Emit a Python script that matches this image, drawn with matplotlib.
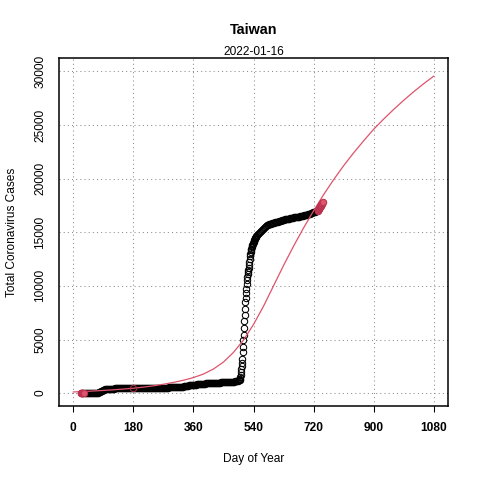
import matplotlib
matplotlib.use("Agg")
import matplotlib.pyplot as plt

plt.rcParams['font.family'] = ['Liberation Sans', 'DejaVu Sans']

title = "Taiwan"
subtitle = "2022-01-16"
xlabel = "Day of Year"
ylabel = "Total Coronavirus Cases"
xticks = [0, 180, 360, 540, 720, 900, 1080]
yticks = [0, 5000, 10000, 15000, 20000, 25000, 30000]

# early highlighted points (red)
red_start_days = [22, 23, 24, 25, 26, 27, 28, 29, 30, 31]
red_start_vals = [1, 1, 3, 3, 4, 5, 8, 8, 9, 10]

# black observed points
black_days = list(range(34, 497, 3)) + list(range(497, 548)) + list(range(548, 732, 3))
black_vals = [
    10, 11, 16, 18, 20, 22, 26, 31, 34, 40, 42, 45, 47, 50, 67, 108, 169, 235, 283, 322,
    348, 363, 380, 388, 395, 398, 422, 427, 429, 429, 436, 438, 440, 440, 441, 442, 442, 442,
    443, 443, 443, 443, 445, 445, 446, 446, 446, 446, 447, 447, 449, 449, 451, 451, 451, 455,
    455, 455, 458, 462, 467, 467, 474, 477, 479, 480, 482, 486, 487, 487, 488, 489, 492, 495,
    496, 498, 503, 505, 507, 510, 514, 516, 520, 523, 527, 532, 534, 537, 542, 547, 553, 555,
    565, 573, 577, 590, 603, 611, 618, 633, 670, 685, 696, 711, 718, 733, 742, 753, 766, 771,
    795, 802, 817, 828, 838, 847, 853, 866, 870, 880, 889, 911, 919, 923, 927, 930, 937, 938,
    942, 946, 953, 960, 970, 975, 982, 990, 994, 997, 1001, 1006, 1016, 1030, 1040, 1048, 1051,
    1057, 1060, 1068, 1076, 1084, 1090, 1110, 1132, 1153, 1210,
    # daily 497-547
    1231, 1241, 1256, 1290, 1475, 1682, 2017, 2260, 2533, 2825, 3144, 3862, 4322, 4917, 5456,
    6091, 6761, 7315, 7806, 8511, 8842, 9297, 9668, 10144, 10555, 10872, 11119, 11298, 11491,
    11694, 11968, 12222, 12486, 12746, 12929, 13117, 13304, 13408, 13584, 13685, 13814, 13895,
    14005, 14086, 14156, 14271, 14353, 14428, 14480, 14549, 14588,
    # every 3 days 548-731
    14634, 14730, 14830, 14920, 15010, 15100, 15200, 15300, 15400, 15520, 15623, 15660, 15700,
    15740, 15780, 15810, 15840, 15870, 15890, 15920, 15950, 15970, 16000, 16030, 16060, 16090,
    16120, 16150, 16170, 16200, 16220, 16240, 16260, 16280, 16300, 16320, 16340, 16360, 16380,
    16400, 16410, 16430, 16450, 16470, 16490, 16510, 16530, 16550, 16570, 16590, 16620, 16650,
    16680, 16710, 16740, 16780, 16810, 16850, 16880, 16920, 16960, 17000,
]

# latest highlighted points (red)
red_end_days = list(range(732, 748))
red_end_vals = [17029, 17060, 17100, 17150, 17200, 17255, 17310, 17360, 17420, 17480,
                17530, 17580, 17640, 17700, 17770, 17848]

# fitted curve, read every 30 days
curve_days = list(range(0, 1081, 30))
curve_vals = [110, 150, 200, 250, 310, 380, 460, 560, 680, 830, 1000, 1200, 1450, 1780,
              2250, 2900, 3800, 4950, 6400, 8100, 10000, 11900, 13700, 15400, 17000, 18500,
              19900, 21200, 22400, 23520, 24600, 25550, 26450, 27300, 28100, 28850, 29550]

# marked point on the curve
mark_day = [180]
mark_val = [460]

red = '#DF536B'

fig = plt.figure(figsize=(4.8, 4.8), dpi=100)
ax = fig.add_axes([59/480, 1-406/480, (448-59)/480, (406-58)/480])

ax.set_xlim(-43, 1123)
ax.set_ylim(-1200, 31250)

for t in xticks:
    ax.axvline(t, color='#8C8C8C', lw=0.75, ls=(0, (1, 3)), zorder=0)
for t in yticks:
    ax.axhline(t, color='#8C8C8C', lw=0.75, ls=(0, (1, 3)), zorder=0)

ax.plot(black_days, black_vals, ls='none', marker='o', ms=4.6, mfc='none',
        mec='black', mew=0.75, zorder=2)
ax.plot(curve_days, curve_vals, color=red, lw=0.9, zorder=3)
ax.plot(mark_day, mark_val, ls='none', marker='o', ms=4.6, mfc='none',
        mec='#A03045', mew=0.75, zorder=4)
ax.plot(red_start_days, red_start_vals, ls='none', marker='o', ms=4.6, mfc=red,
        mec='#B8324F', mew=0.75, zorder=5)
ax.plot(red_end_days, red_end_vals, ls='none', marker='o', ms=4.6, mfc=red,
        mec='#B8324F', mew=0.75, zorder=5)

ax.set_xticks(xticks)
ax.set_xticklabels([str(t) for t in xticks], fontweight='bold', fontsize=8.6)
ax.set_yticks(yticks)
ax.set_yticklabels([str(t) for t in yticks], fontsize=8.6, rotation=90, va='center')
ax.tick_params(axis='x', length=4.3, width=0.75, pad=7)
ax.tick_params(axis='y', length=0, pad=9)
for s in ax.spines.values():
    s.set_linewidth(1.1)

fig.text(253.5/480, 1-30/480, title, ha='center', va='center', fontsize=10.4, fontweight='bold')
fig.text(253.5/480, 1-52/480, subtitle, ha='center', va='center', fontsize=8.6)
fig.text(253.5/480, 1-459/480, xlabel, ha='center', va='center', fontsize=8.6)
fig.text(12/480, 1-232/480, ylabel, ha='center', va='center', fontsize=8.6, rotation=90)

fig.savefig('out.png', dpi=100, facecolor='white')
